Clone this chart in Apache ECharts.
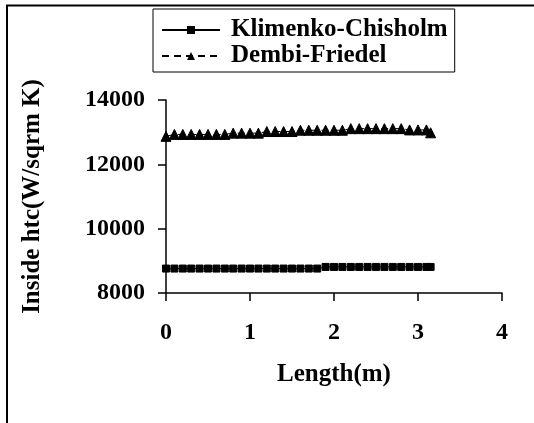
<!DOCTYPE html>
<html>
<head>
<meta charset="utf-8">
<script src="https://cdn.jsdelivr.net/npm/echarts@6/dist/echarts.min.js"></script>
<style>
html,body{margin:0;padding:0;background:#fff;}
#chart{width:534px;height:423px;}
</style>
</head>
<body>
<div id="chart"></div>
<script>
var lengths = [0,0.1,0.2,0.3,0.4,0.5,0.6,0.7,0.8,0.9,1.0,1.1,1.2,1.3,1.4,1.5,1.6,1.7,1.8,1.9,2.0,2.1,2.2,2.3,2.4,2.5,2.6,2.7,2.8,2.9,3.0,3.1,3.15];
var klimenko = [8760,8760,8760,8760,8760,8760,8760,8760,8760,8760,8760,8760,8760,8760,8760,8760,8760,8760,8760,8810,8810,8810,8810,8810,8810,8810,8810,8810,8810,8810,8810,8810,8810];
var dembi = [12870,12930,12930,12930,12930,12930,12930,12930,12970,12970,12970,12970,13020,13020,13020,13020,13060,13060,13060,13060,13060,13060,13110,13110,13110,13110,13110,13110,13110,13070,13070,13070,12980];
var seriesNames = ['Klimenko-Chisholm','Dembi-Friedel'];
var xTicks = {min:0,max:4,interval:1};
var yTicks = {min:8000,max:14000,interval:2000};

function pairs(xs, ys){ return xs.map(function(x,i){return [x, ys[i]];}); }

var font = '"Liberation Serif","Times New Roman",serif';
var chart = echarts.init(document.getElementById('chart'), null, {renderer:'canvas'});
chart.setOption({
  backgroundColor:'#fff',
  animation:false,
  grid:{left:166, right:32, top:100, bottom:130, containLabel:false},
  legend:{
    left:153, top:9, orient:'vertical',
    borderColor:'#000', borderWidth:1, padding:[8,7,3,8],
    itemWidth:58, itemHeight:10, itemGap:0,
    textStyle:{fontFamily:font, fontWeight:'bold', fontSize:25, color:'#000', lineHeight:26, padding:[0,0,0,6]},
    data:seriesNames
  },
  xAxis:{
    type:'value', min:xTicks.min, max:xTicks.max, interval:xTicks.interval,
    name:'Length(m)', nameLocation:'middle', nameGap:69,
    nameTextStyle:{fontFamily:font, fontWeight:'bold', fontSize:25, color:'#000'},
    axisLine:{show:true, onZero:false, lineStyle:{color:'#000', width:1.5}},
    axisTick:{show:true, inside:false, length:8, lineStyle:{color:'#000', width:1.5}},
    axisLabel:{fontFamily:font, fontWeight:'bold', fontSize:24, color:'#000', margin:28,
      formatter:function(v){return String(v);}},
    splitLine:{show:false}
  },
  yAxis:{
    type:'value', min:yTicks.min, max:yTicks.max, interval:yTicks.interval,
    name:'Inside htc(W/sqrm K)', nameLocation:'middle', nameGap:121, nameRotate:90,
    nameTextStyle:{fontFamily:font, fontWeight:'bold', fontSize:25, color:'#000'},
    axisLine:{show:true, onZero:false, lineStyle:{color:'#000', width:1.5}},
    axisTick:{show:true, inside:false, length:8, lineStyle:{color:'#000', width:1.5}},
    axisLabel:{fontFamily:font, fontWeight:'bold', fontSize:24, color:'#000', margin:21,
      formatter:function(v){return String(v);}},
    splitLine:{show:false}
  },
  series:[
    {name:seriesNames[0], type:'line', data:pairs(lengths, klimenko),
     symbol:'rect', symbolSize:7, showAllSymbol:true,
     lineStyle:{color:'#000', width:1, type:'solid'},
     itemStyle:{color:'#000', borderColor:'#000'}},
    {name:seriesNames[1], type:'line', data:pairs(lengths, dembi),
     symbol:'triangle', symbolSize:10, showAllSymbol:true,
     lineStyle:{color:'#000', width:1, type:[7,5]},
     itemStyle:{color:'#000', borderColor:'#000'}}
  ],
  graphic:[
    {type:'line', shape:{x1:6, y1:5.5, x2:534, y2:5.5}, style:{stroke:'#000', lineWidth:2}},
    {type:'line', shape:{x1:7, y1:5, x2:7, y2:423}, style:{stroke:'#000', lineWidth:2}}
  ]
});
</script>
</body>
</html>
